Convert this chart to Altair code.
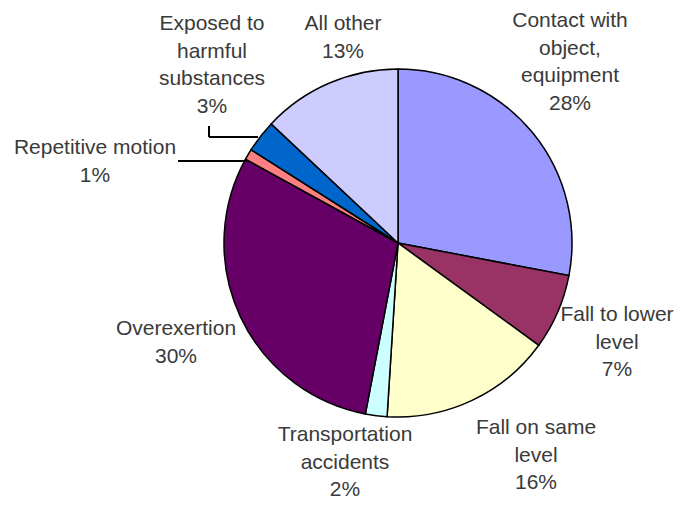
import altair as alt
import pandas as pd

# ---- data ----
categories = [
    "Contact with object, equipment",
    "Fall to lower level",
    "Fall on same level",
    "Transportation accidents",
    "Overexertion",
    "Repetitive motion",
    "Exposed to harmful substances",
    "All other",
]
values = [28, 7, 16, 2, 30, 1, 3, 13]
label_names = [
    "Contact with\nobject,\nequipment",
    "Fall to lower\nlevel",
    "Fall on same\nlevel",
    "Transportation\naccidents",
    "Overexertion",
    "Repetitive motion",
    "Exposed to\nharmful\nsubstances",
    "All other",
]
colors = ["#9999FF", "#993366", "#FFFFCC", "#CCFFFF", "#660066", "#FF8080", "#0066CC", "#CCCCFF"]

# ---- layout (label anchor of first line, plot pixel coords) ----
label_x = [562, 609, 528, 337, 168, 87, 204, 335]
label_y = [13, 307, 420, 427, 321, 140, 16, 16]
CX, CY, R = 390, 235, 174

pie_df = pd.DataFrame({"category": categories, "value": values, "idx": list(range(len(values)))})
lab_df = pd.DataFrame({
    "text": [f"{n}\n{v}%" for n, v in zip(label_names, values)],
    "lx": label_x,
    "ly": label_y,
})

pie = alt.Chart(pie_df).mark_arc(radius=R, stroke="black", strokeWidth=1.5).encode(
    theta=alt.Theta("value:Q", stack=True),
    order=alt.Order("idx:Q"),
    color=alt.Color("category:N", scale=alt.Scale(domain=categories, range=colors), legend=None),
    x=alt.value(CX),
    y=alt.value(CY),
)

labels = alt.Chart(lab_df).mark_text(
    font="Liberation Sans", fontSize=21, color="#3a3a3a", lineBreak="\n",
    lineHeight=27.5, align="center", baseline="middle",
).encode(
    x=alt.X("lx:Q", scale=None),
    y=alt.Y("ly:Q", scale=None),
    text="text:N",
)

rule_df = pd.DataFrame({"x": [201, 201, 170], "y": [118, 129, 153], "x2": [201, 250, 239], "y2": [129, 129, 153]})
leaders = alt.Chart(rule_df).mark_rule(color="black", strokeWidth=2).encode(
    x=alt.X("x:Q", scale=None), y=alt.Y("y:Q", scale=None),
    x2="x2:Q", y2="y2:Q",
)

chart = alt.layer(pie, leaders, labels).properties(
    width=667, height=494, padding=0, autosize="none"
).configure_view(stroke=None)

chart.save("out.html", embed_options={"renderer": "svg", "actions": False})
